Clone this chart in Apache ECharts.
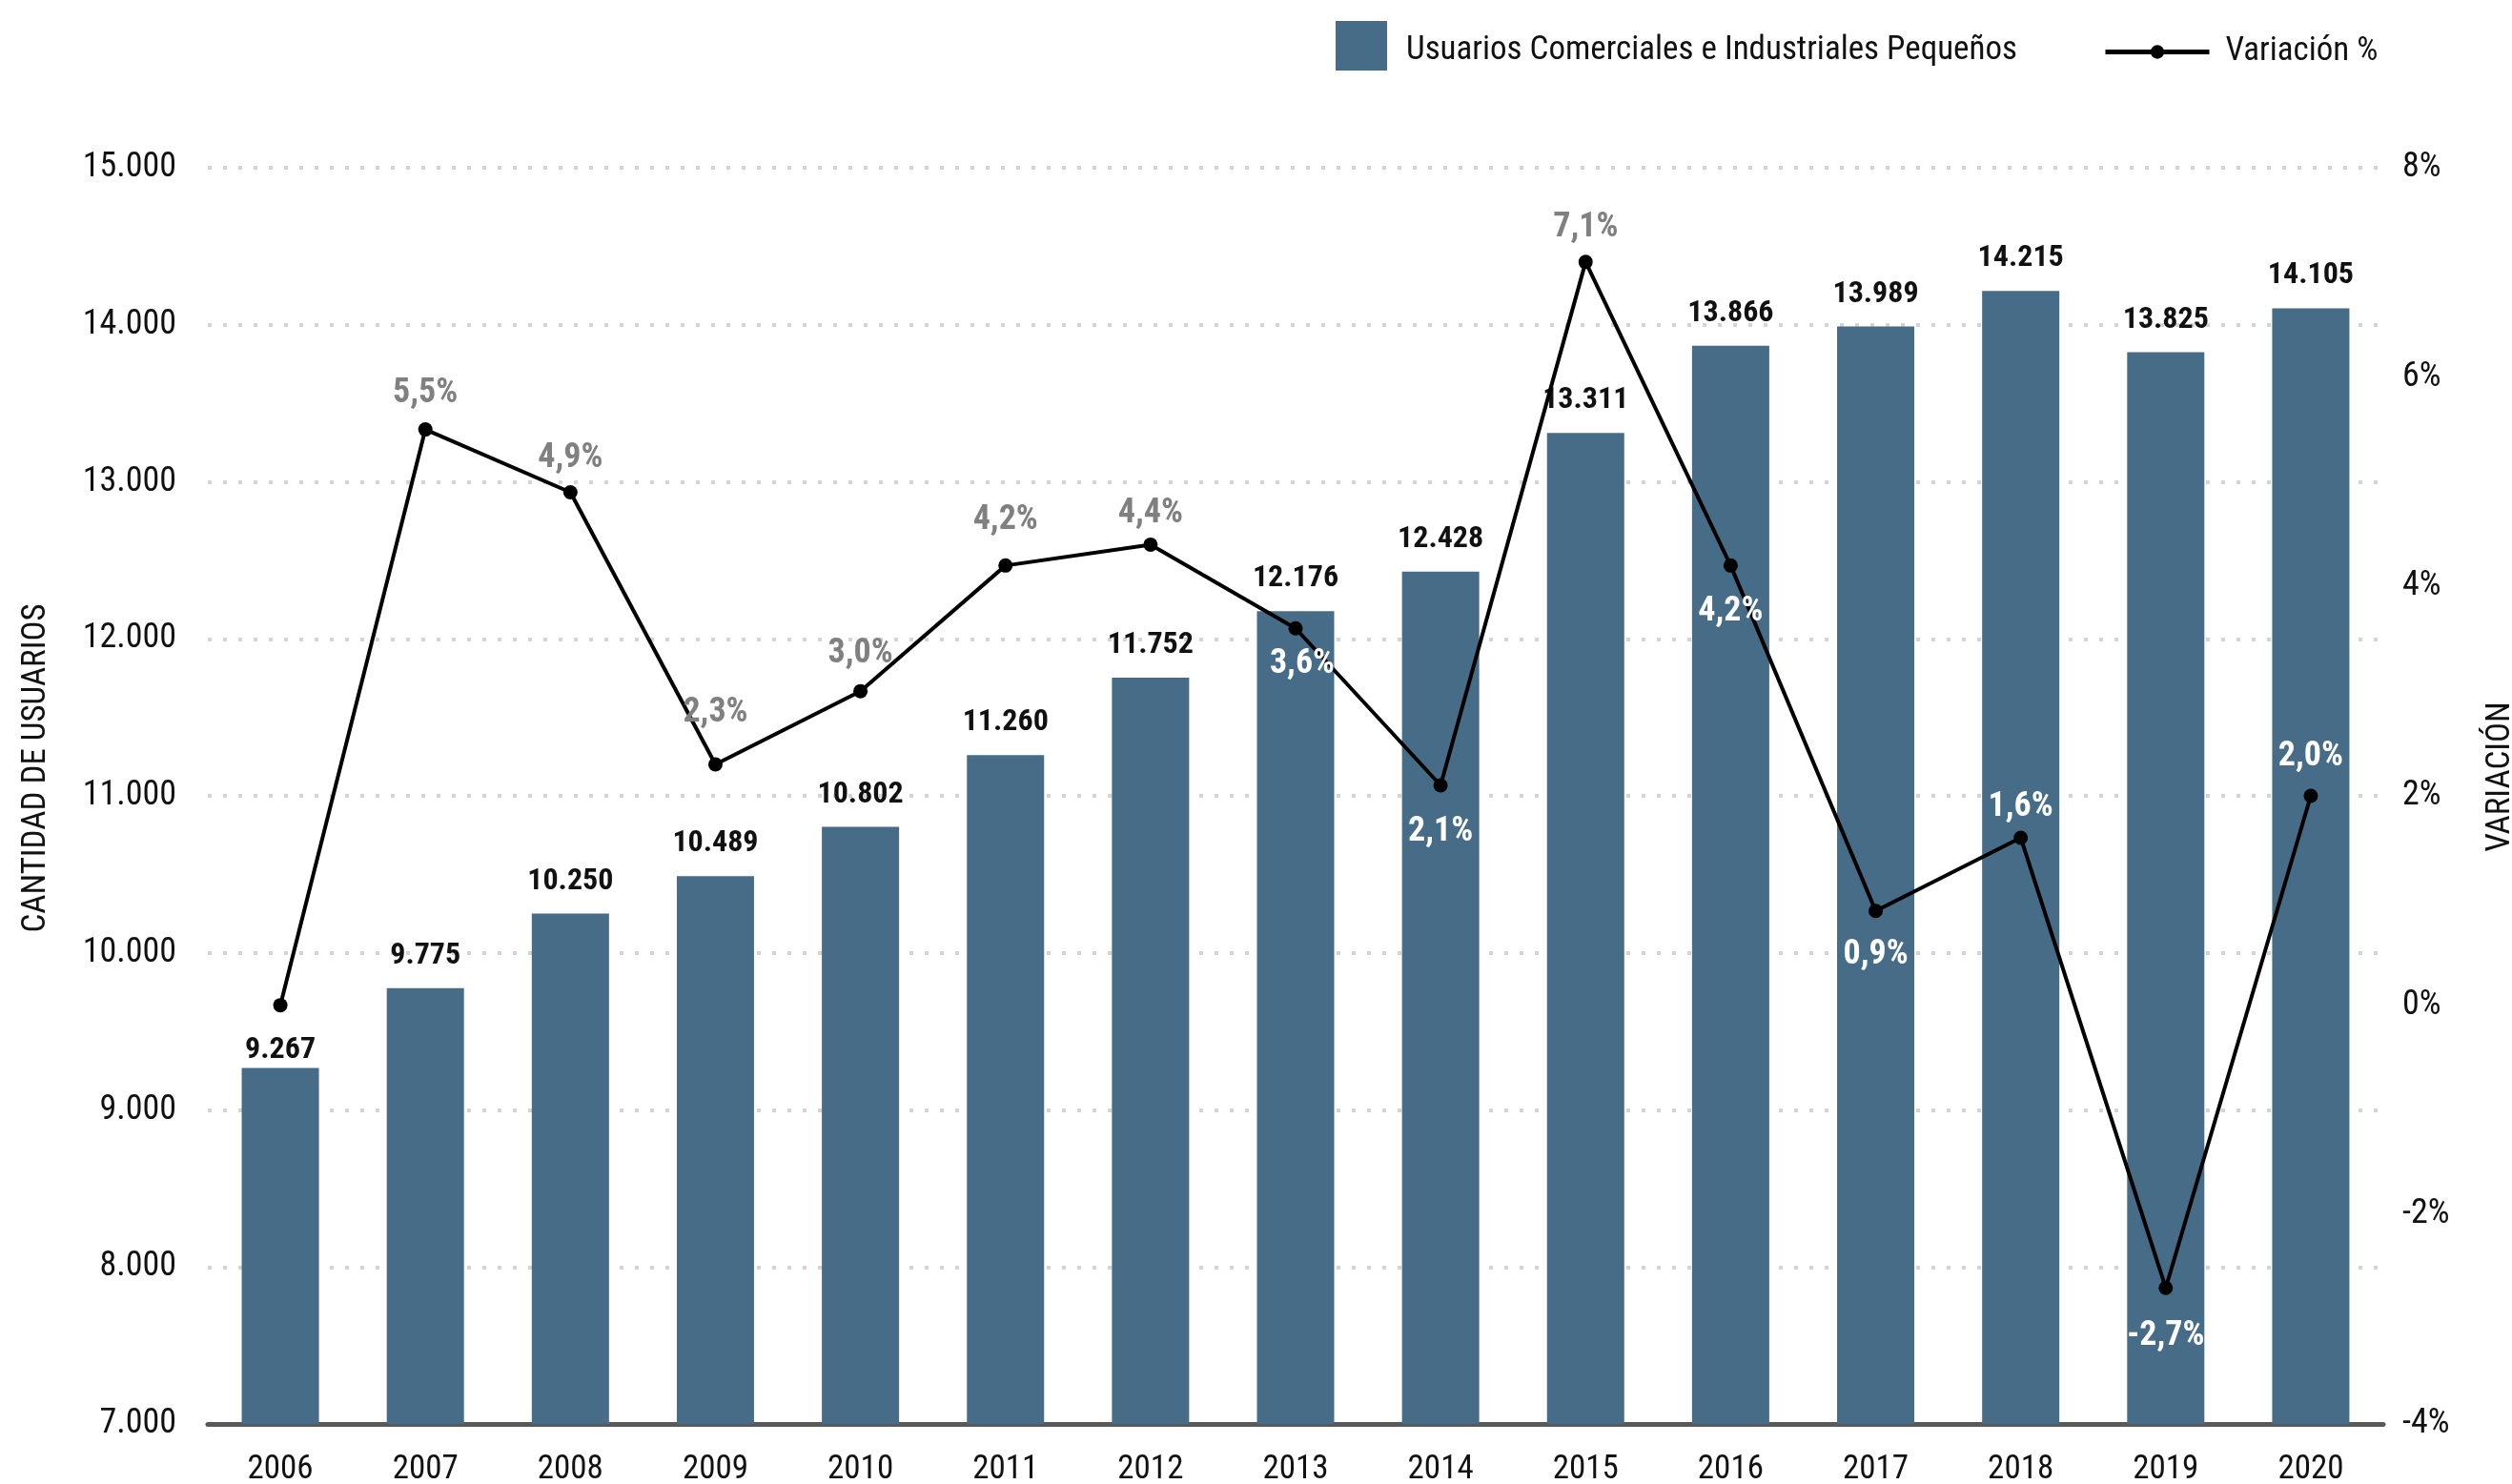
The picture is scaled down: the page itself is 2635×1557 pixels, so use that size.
<!DOCTYPE html>
<html>
<head>
<meta charset="utf-8">
<script src="https://cdn.jsdelivr.net/npm/echarts@6/dist/echarts.min.js"></script>
<style>
html,body{margin:0;padding:0;background:#fff;}
#chart{width:2635px;height:1557px;}
</style>
</head>
<body>
<div id="chart"></div>
<script>
const years = ['2006','2007','2008','2009','2010','2011','2012','2013','2014','2015','2016','2017','2018','2019','2020'];
const usuarios = [9267, 9775, 10250, 10489, 10802, 11260, 11752, 12176, 12428, 13311, 13866, 13989, 14215, 13825, 14105];
const variacion = [0, 5.5, 4.9, 2.3, 3.0, 4.2, 4.4, 3.6, 2.1, 7.1, 4.2, 0.9, 1.6, -2.7, 2.0];
// label placement per point: 'top' gray, 'topW' white above, 'bottom' white below, 'none'
const labelPlace = ['none','top','top','top','top','top','top','bottom','bottom','top','bottom','bottom','topW','bottom','topW'];
const labelDist = [0, 12, 10, 29, 14, 22, 7, 12, 23, 10, 23, 21, 6, 25, 16];

const FONT = "'Roboto Condensed','Liberation Sans Narrow','DejaVu Sans Condensed','Arial Narrow',Roboto,sans-serif";
const thousands = v => String(v).replace(/\B(?=(\d{3})+(?!\d))/g, '.');
const pct = v => v.toFixed(1).replace('.', ',') + '%';

const lineData = variacion.map((v, i) => {
  const p = labelPlace[i];
  const item = { value: v };
  if (p === 'none') {
    item.label = { show: false };
  } else if (p === 'top') {
    item.label = { show: true, position: 'top', color: '#808080', distance: labelDist[i] };
  } else if (p === 'topW') {
    item.label = { show: true, position: 'top', color: '#ffffff', distance: labelDist[i] };
  } else {
    item.label = { show: true, position: 'bottom', color: '#ffffff', distance: labelDist[i], offset: i === 7 ? [7, 0] : [0, 0] };
  }
  return item;
});

const barData = usuarios.map((v, i) => i === 0 ? { value: v, label: { distance: 3 } } : v);

const chart = echarts.init(document.getElementById('chart'), null, { renderer: 'canvas' });
chart.setOption({
  backgroundColor: '#ffffff',
  textStyle: { fontFamily: FONT },
  animation: false,
  legend: [
    {
      data: [{ name: 'Usuarios Comerciales e Industriales Pequeños', icon: 'rect' }],
      left: 1401, top: 22, padding: 0,
      itemWidth: 54, itemHeight: 52,
      formatter: name => '{t|' + name + '}',
      textStyle: {
        fontFamily: FONT, fontSize: 35, color: '#111',
        rich: { t: { fontFamily: FONT, fontSize: 35, color: '#111', padding: [10, 0, 0, 15] } }
      }
    },
    {
      data: ['Variación %'],
      left: 2206, top: 37, padding: 0,
      itemWidth: 109, itemHeight: 18,
      lineStyle: { width: 5 },
      textStyle: { fontFamily: FONT, fontSize: 35, color: '#111', padding: [6, 0, 0, 12] }
    }
  ],
  grid: { left: 218, right: 135, top: 176, bottom: 63, containLabel: false, outerBoundsMode: 'none' },
  xAxis: {
    type: 'category',
    data: years,
    axisLine: { onZero: false, lineStyle: { color: '#595959', width: 5 } },
    axisTick: { show: false },
    axisLabel: { fontFamily: FONT, fontSize: 35, color: '#111', margin: 31 }
  },
  yAxis: [
    {
      type: 'value', min: 7000, max: 15000, interval: 1000,
      name: 'CANTIDAD DE USUARIOS', nameLocation: 'middle', nameRotate: 90, nameGap: 162,
      nameTextStyle: { fontFamily: FONT, fontSize: 35, color: '#111', padding: [0, 0, 0, 58] },
      axisLine: { show: false }, axisTick: { show: false },
      axisLabel: { fontFamily: FONT, fontSize: 36, color: '#111', margin: 33, formatter: v => thousands(v) },
      splitLine: { show: true, lineStyle: { color: '#d4d4d4', width: 4, type: [4, 12] } }
    },
    {
      type: 'value', min: -4, max: 8, interval: 2,
      name: 'VARIACIÓN', nameLocation: 'middle', nameRotate: 90, nameGap: 106,
      nameTextStyle: { fontFamily: FONT, fontSize: 35, color: '#111', padding: [0, 0, 0, 40] },
      axisLine: { show: false }, axisTick: { show: false },
      axisLabel: { fontFamily: FONT, fontSize: 36, color: '#111', margin: 20, formatter: v => v + '%' },
      splitLine: { show: false }
    }
  ],
  series: [
    {
      name: 'Usuarios Comerciales e Industriales Pequeños',
      type: 'bar', yAxisIndex: 0, data: barData, barWidth: 81,
      itemStyle: { color: '#466c87' },
      label: { show: true, position: 'top', distance: 18, fontFamily: FONT, fontSize: 32, fontWeight: 'bold', color: '#111', formatter: p => thousands(p.value) },
      z: 2
    },
    {
      name: 'Variación %',
      type: 'line', yAxisIndex: 1, data: lineData,
      symbol: 'circle', symbolSize: 15,
      lineStyle: { color: '#000', width: 4 },
      itemStyle: { color: '#000' },
      label: { show: true, fontFamily: FONT, fontSize: 36, fontWeight: 'bold', formatter: p => pct(p.value) },
      z: 5
    }
  ]
});
</script>
</body>
</html>
